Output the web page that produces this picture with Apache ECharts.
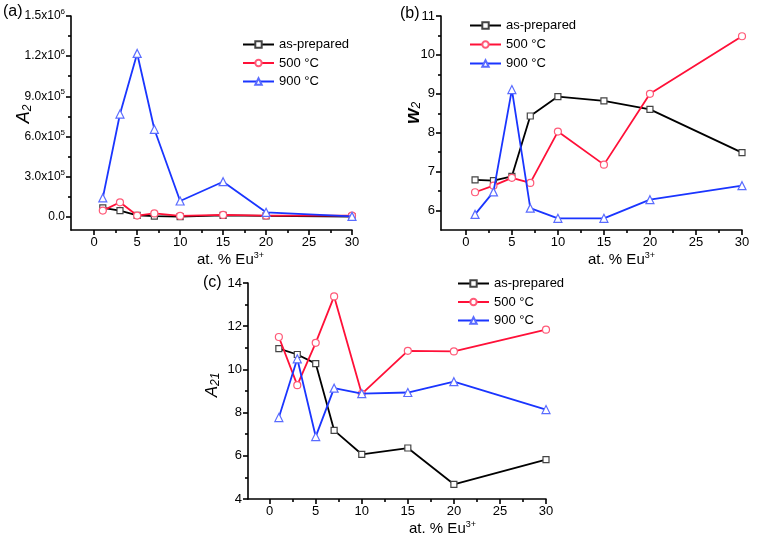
<!DOCTYPE html>
<html>
<head>
<meta charset="utf-8">
<script src="https://cdn.jsdelivr.net/npm/echarts@6/dist/echarts.min.js"></script>
<style>html,body{margin:0;padding:0;background:#fff}#c{width:760px;height:543px}</style>
</head>
<body>
<div id="c"></div>
<script>
// ---- data ----
const xValues = [1, 3, 5, 7, 10, 15, 20, 30];
const seriesNames = ['as-prepared', '500 °C', '900 °C'];
const a2AsPrepared = [65000, 45000, 10000, 3000, 0, 10000, 5000, 0];
const a2T500 = [45000, 107000, 8000, 24000, 5000, 13000, 8000, 8000];
const a2T900 = [140000, 767000, 1220000, 653000, 117000, 261000, 32000, 2000];
const w2AsPrepared = [6.79, 6.77, 6.88, 8.43, 8.93, 8.82, 8.60, 7.49];
const w2T500 = [6.47, 6.64, 6.84, 6.71, 8.03, 7.18, 9.00, 10.48];
const w2T900 = [5.90, 6.48, 9.11, 6.06, 5.80, 5.80, 6.28, 6.64];
const a21AsPrepared = [10.96, 10.69, 10.27, 7.18, 6.07, 6.36, 4.68, 5.82];
const a21T500 = [11.50, 9.27, 11.23, 13.38, 8.87, 10.86, 10.83, 11.84];
const a21T900 = [7.77, 10.49, 6.89, 9.13, 8.88, 8.93, 9.43, 8.14];
const xTicks = [0, 5, 10, 15, 20, 25, 30];
const xMinorTicks = [2.5, 7.5, 12.5, 17.5, 22.5, 27.5];
const aYTicks = [0, 300000, 600000, 900000, 1200000, 1500000];
const aYMinor = [150000, 450000, 750000, 1050000, 1350000];
const bYTicks = [6, 7, 8, 9, 10, 11];
const bYMinor = [6.5, 7.5, 8.5, 9.5, 10.5];
const cYTicks = [4, 6, 8, 10, 12, 14];
const cYMinor = [5, 7, 9, 11, 13];

// ---- styling ----
const FONT = 'Liberation Sans, Arial, sans-serif';
const colors = ['#000000', '#ff1038', '#1a35ff'];
const borders = ['#444444', '#ff5a78', '#5a6cff'];
const symbols = ['rect', 'circle', 'triangle'];
const symSizes = [6, 7, 8];

const grids = [
  {left: 71, top: 16, width: 281, height: 214},
  {left: 441, top: 16, width: 301, height: 214},
  {left: 248, top: 283, width: 298, height: 216}
];
const xMins = [-2.7, -2.7, -2.35];
const yRanges = [[-100000, 1500000], [5.5, 11], [4, 14]];
const yTicksArr = [aYTicks, bYTicks, cYTicks];
const yMinorArr = [aYMinor, bYMinor, cYMinor];
const xNamePad = [38, 60, 91];
const yNames = ['{i|A}{s|2}', '{i|w}{s|2}', '{i|A}{s|21}'];
const yNameGaps = [37, 18, 26];
const ySizes = [18, 20, 17];
const yWeights = ['normal', 'bold', 'normal'];
const yNamePad = [18, 20, 12];

const axisLineStyle = {color: '#000', width: 1.6};

function sci(v) {
  if (Math.abs(v) < 1e-9) return '{b|0.0}';
  const e = Math.floor(Math.log10(v) + 1e-9);
  const m = (v / Math.pow(10, e)).toFixed(1);
  return '{b|' + m + 'x10}{s|' + e + '}';
}

const xAxes = [], yAxes = [];
for (let g = 0; g < 3; g++) {
  xAxes.push({
    type: 'value', gridIndex: g, min: xMins[g], max: 30, position: 'bottom',
    axisLine: {show: true, onZero: false, lineStyle: axisLineStyle},
    axisTick: {show: true, customValues: xTicks, length: 5, lineStyle: axisLineStyle},
    axisLabel: {customValues: xTicks, color: '#000', fontSize: 13, fontFamily: FONT, margin: 6},
    splitLine: {show: false},
    name: '{a|at. % Eu}{s|3+}', nameLocation: 'middle', nameGap: 21, nameMoveOverlap: false,
    nameTextStyle: {padding: [0, 0, 0, xNamePad[g]],
      rich: {a: {fontSize: 15, fontFamily: FONT, color: '#000', lineHeight: 17},
             s: {fontSize: 9, fontFamily: FONT, color: '#000', lineHeight: 10, verticalAlign: 'top'}}}
  });
  xAxes.push({
    type: 'value', gridIndex: g, min: xMins[g], max: 30, position: 'bottom',
    axisLine: {show: false, onZero: false},
    axisTick: {show: true, customValues: xMinorTicks, length: 3, lineStyle: axisLineStyle},
    axisLabel: {show: false}, splitLine: {show: false}
  });
  yAxes.push({
    type: 'value', gridIndex: g, min: yRanges[g][0], max: yRanges[g][1], position: 'left',
    axisLine: {show: true, onZero: false, lineStyle: axisLineStyle},
    axisTick: {show: true, customValues: yTicksArr[g], length: 5, lineStyle: axisLineStyle},
    axisLabel: g === 0 ? {
      customValues: yTicksArr[g], margin: 6, formatter: sci,
      rich: {b: {fontSize: 12, fontFamily: FONT, color: '#000', lineHeight: 16},
             s: {fontSize: 8, fontFamily: FONT, color: '#000', lineHeight: 10, verticalAlign: 'top'}}
    } : {customValues: yTicksArr[g], color: '#000', fontSize: 13, fontFamily: FONT, margin: 6},
    splitLine: {show: false},
    name: yNames[g], nameLocation: 'middle', nameGap: yNameGaps[g], nameMoveOverlap: false,
    nameTextStyle: {padding: [0, 0, 0, yNamePad[g]], rich: {
      i: {fontSize: ySizes[g], fontStyle: 'italic', fontWeight: yWeights[g], fontFamily: FONT, color: '#000', lineHeight: 20},
      s: {fontSize: 12, fontStyle: 'italic', fontFamily: FONT, color: '#000', lineHeight: 12, verticalAlign: 'bottom'}
    }}
  });
  yAxes.push({
    type: 'value', gridIndex: g, min: yRanges[g][0], max: yRanges[g][1], position: 'left',
    axisLine: {show: false, onZero: false},
    axisTick: {show: true, customValues: yMinorArr[g], length: 3, lineStyle: axisLineStyle},
    axisLabel: {show: false}, splitLine: {show: false}
  });
}

const panelData = [
  [a2AsPrepared, a2T500, a2T900],
  [w2AsPrepared, w2T500, w2T900],
  [a21AsPrepared, a21T500, a21T900]
];
const series = [];
for (let g = 0; g < 3; g++) {
  for (let s = 0; s < 3; s++) {
    series.push({
      type: 'line', name: seriesNames[s], xAxisIndex: g * 2, yAxisIndex: g * 2,
      data: xValues.map((x, i) => [x, panelData[g][s][i]]),
      symbol: symbols[s], symbolSize: symSizes[s], showSymbol: true,
      lineStyle: {color: colors[s], width: 1.8},
      itemStyle: {color: '#ffffff', borderColor: borders[s], borderWidth: 1.2},
      emphasis: {disabled: true}, z: 2 + s
    });
  }
}

const legendBase = {
  orient: 'vertical', itemWidth: 31, itemHeight: 8, selectedMode: false,
  data: seriesNames, textStyle: {fontSize: 13, fontFamily: FONT, color: '#000'}, padding: 0
};
const legends = [
  Object.assign({}, legendBase, {left: 242, top: 38, itemGap: 5.5}),
  Object.assign({}, legendBase, {left: 469, top: 19, itemGap: 6}),
  Object.assign({}, legendBase, {left: 457, top: 277, itemGap: 5.5})
];

const titleStyle = {fontSize: 16, fontWeight: 'normal', fontFamily: FONT, color: '#000'};
const titles = [
  {text: '(a)', left: 3, top: 4, padding: 0, textStyle: titleStyle},
  {text: '(b)', left: 400, top: 6, padding: 0, textStyle: titleStyle},
  {text: '(c)', left: 203, top: 275, padding: 0, textStyle: titleStyle}
];

const chart = echarts.init(document.getElementById('c'), null, {renderer: 'canvas'});
chart.setOption({
  animation: false,
  backgroundColor: '#fff',
  title: titles,
  legend: legends,
  grid: grids,
  xAxis: xAxes,
  yAxis: yAxes,
  series: series
});
</script>
</body>
</html>
